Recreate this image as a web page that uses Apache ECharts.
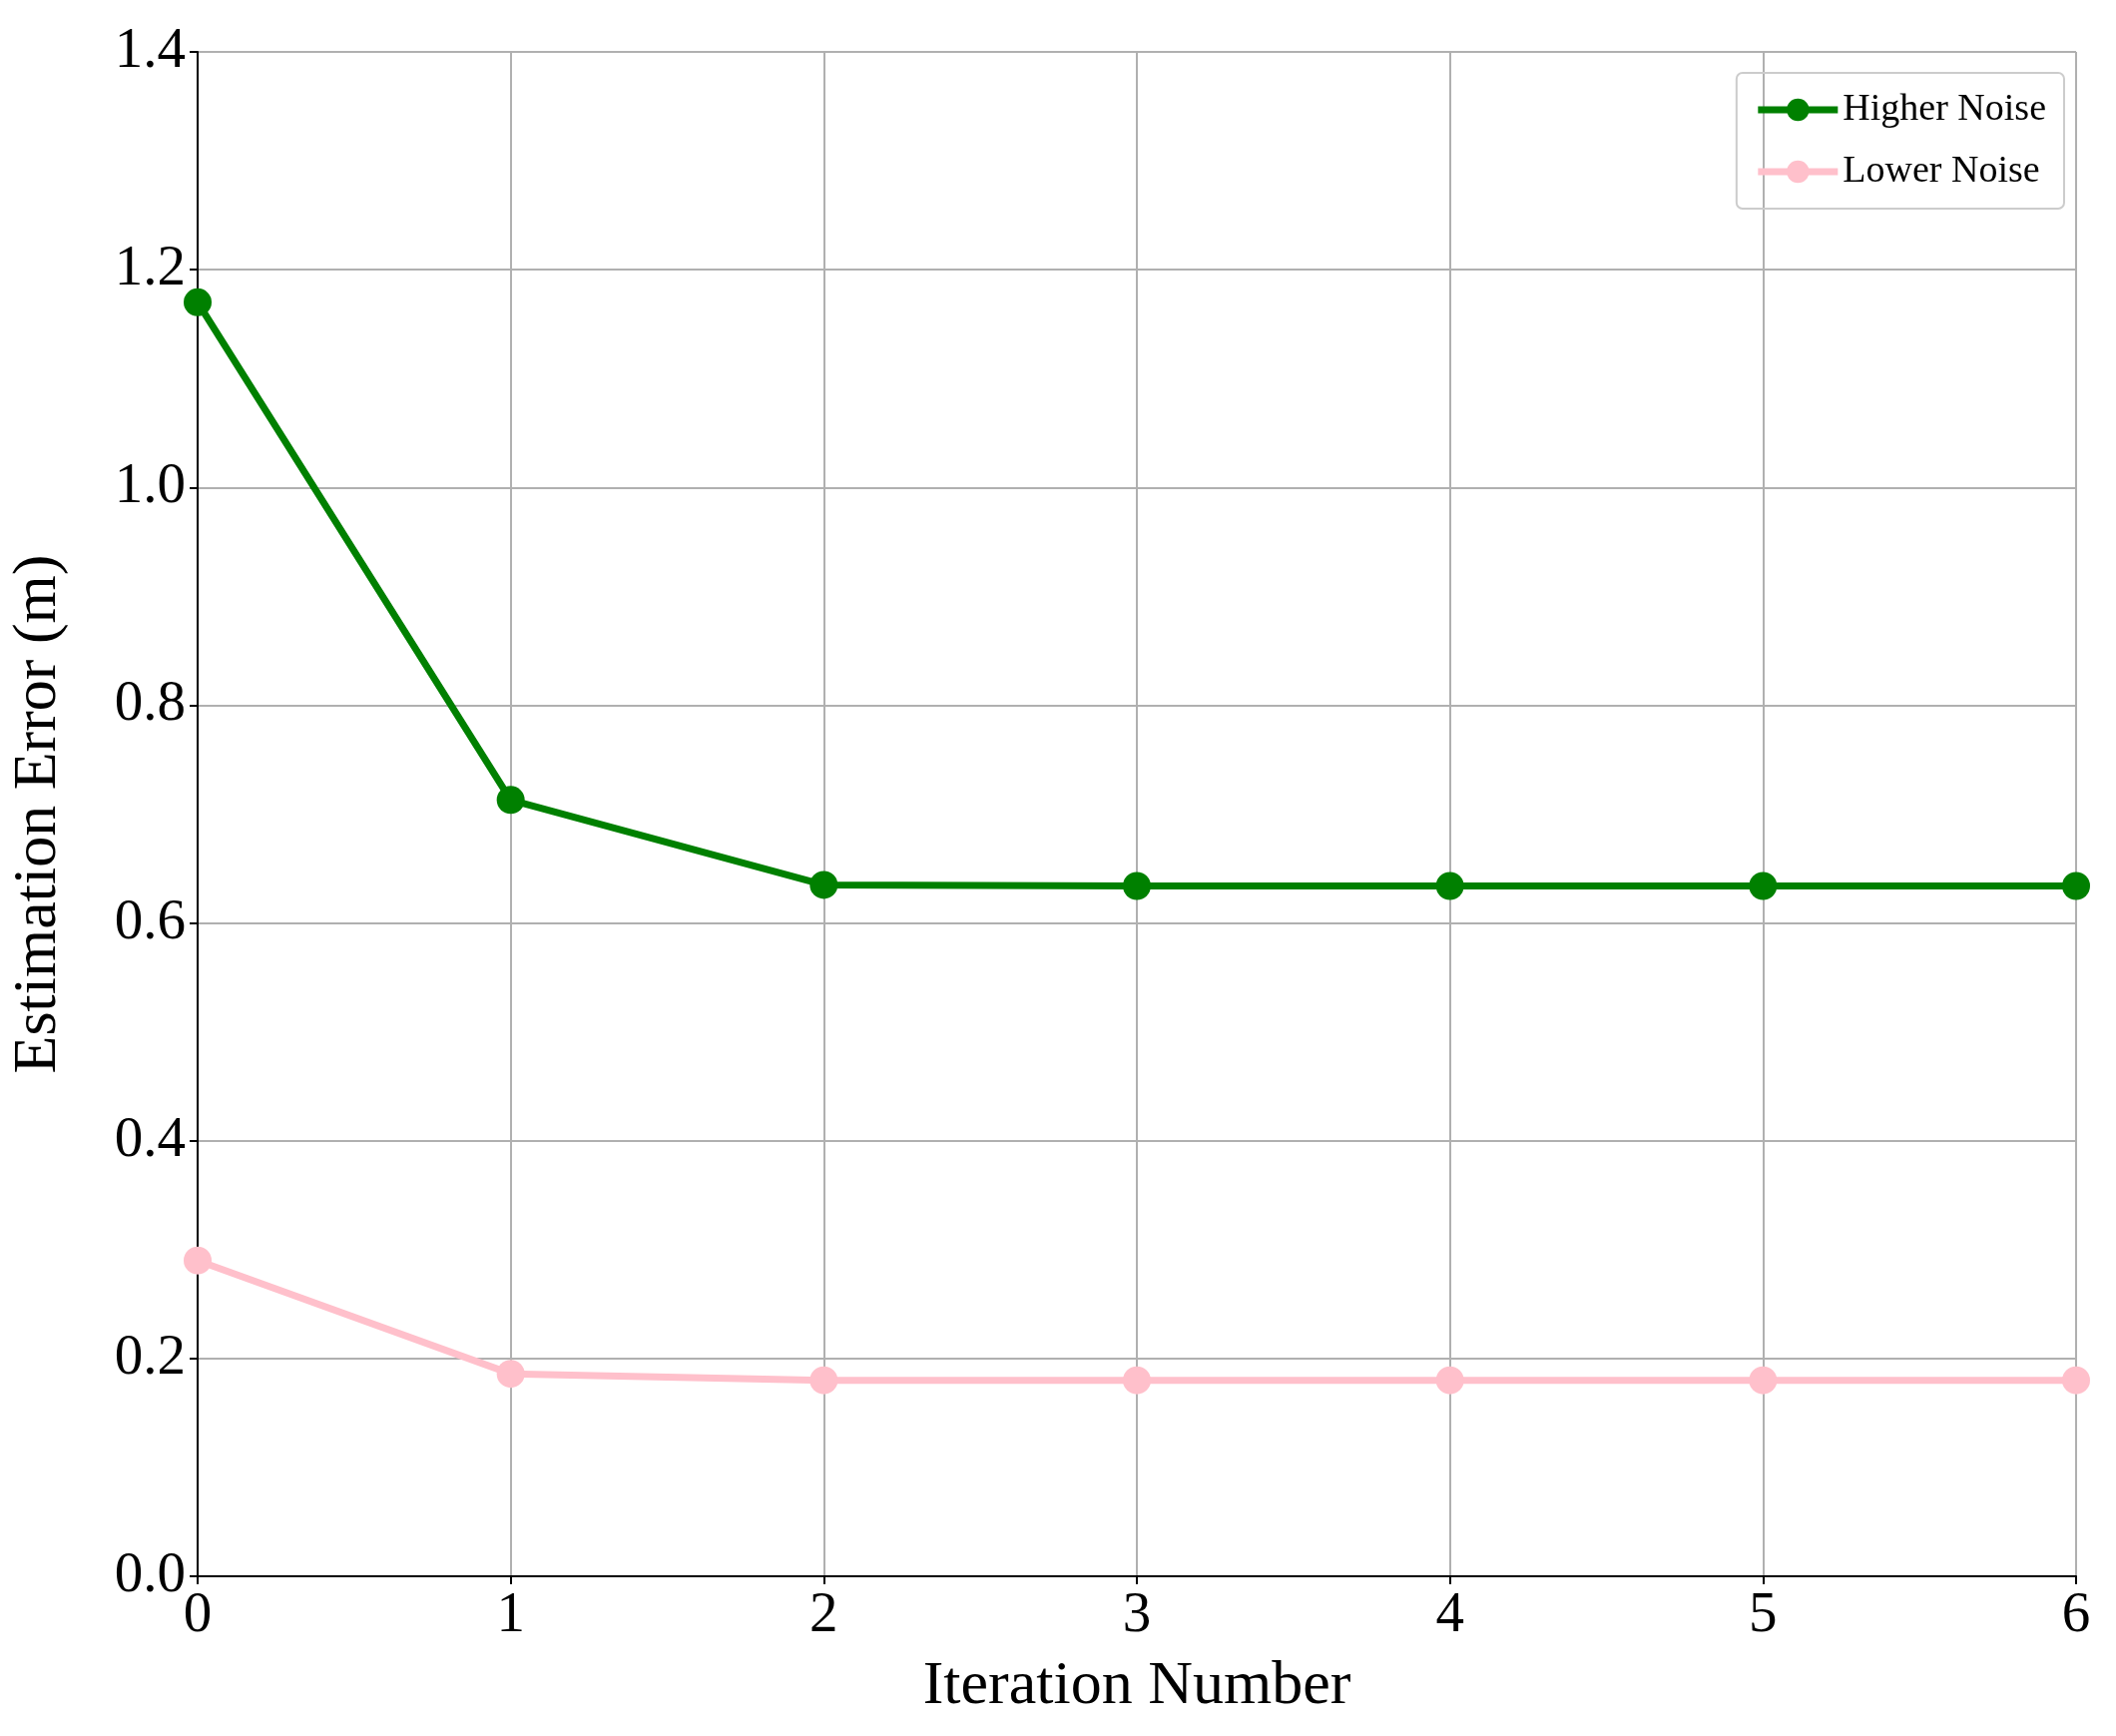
<!DOCTYPE html>
<html>
<head>
<meta charset="utf-8">
<script src="https://cdn.jsdelivr.net/npm/echarts@6/dist/echarts.min.js"></script>
<style>html,body{margin:0;padding:0;background:#fff}#chart{width:2120px;height:1739px}</style>
</head>
<body>
<div id="chart"></div>
<script>
var iterations = [0, 1, 2, 3, 4, 5, 6];
var higherNoise = [1.17, 0.713, 0.635, 0.634, 0.634, 0.634, 0.634];
var lowerNoise = [0.29, 0.186, 0.180, 0.180, 0.180, 0.180, 0.180];

var font = "Liberation Serif";
var chart = echarts.init(document.getElementById("chart"));

function pairs(vals) {
	var out = [];
	for (var i = 0; i < vals.length; i++) out.push([iterations[i], vals[i]]);
	return out;
}

var option = {
	animation: false,
	grid: { left: 197, right: 30 + 10, top: 52, bottom: 160 },
	legend: {
		right: 52, top: 73,
		orient: "vertical",
		itemWidth: 80, itemHeight: 28, itemGap: 24,
		padding: [18, 18, 18, 18],
		borderColor: "#ccc", borderWidth: 2, borderRadius: 6,
		textStyle: { fontFamily: font, fontSize: 38, color: "#000" },
		lineStyle: { width: 7 },
		data: ["Higher Noise", "Lower Noise"]
	},
	xAxis: {
		type: "value", min: 0, max: 6, interval: 1,
		name: "Iteration Number", nameLocation: "middle", nameGap: 80,
		nameTextStyle: { fontFamily: font, fontSize: 62, color: "#000" },
		axisLine: { lineStyle: { color: "#000", width: 2 } },
		axisTick: { show: true, length: 8, lineStyle: { color: "#000", width: 2 } },
		axisLabel: { fontFamily: font, fontSize: 57, color: "#000", margin: 12 },
		splitLine: { show: true, lineStyle: { color: "#b0b0b0", width: 2 } }
	},
	yAxis: {
		type: "value", min: 0, max: 1.4, interval: 0.2,
		name: "Estimation Error (m)", nameLocation: "middle", nameGap: 128,
		nameTextStyle: { fontFamily: font, fontSize: 62, color: "#000" },
		axisLine: { show: true, lineStyle: { color: "#000", width: 2 } },
		axisTick: { show: true, length: 8, lineStyle: { color: "#000", width: 2 } },
		axisLabel: { fontFamily: font, fontSize: 57, color: "#000", margin: 12,
			formatter: function (v) { return v.toFixed(1); } },
		splitLine: { show: true, lineStyle: { color: "#b0b0b0", width: 2 } }
	},
	series: [{
		name: "Higher Noise", type: "line", data: pairs(higherNoise),
		symbol: "circle", symbolSize: 28,
		itemStyle: { color: "#008000" },
		lineStyle: { color: "#008000", width: 7 }
	}, {
		name: "Lower Noise", type: "line", data: pairs(lowerNoise),
		symbol: "circle", symbolSize: 28,
		itemStyle: { color: "#ffc0cb" },
		lineStyle: { color: "#ffc0cb", width: 7 }
	}]
};
chart.setOption(option);
</script>
</body>
</html>
